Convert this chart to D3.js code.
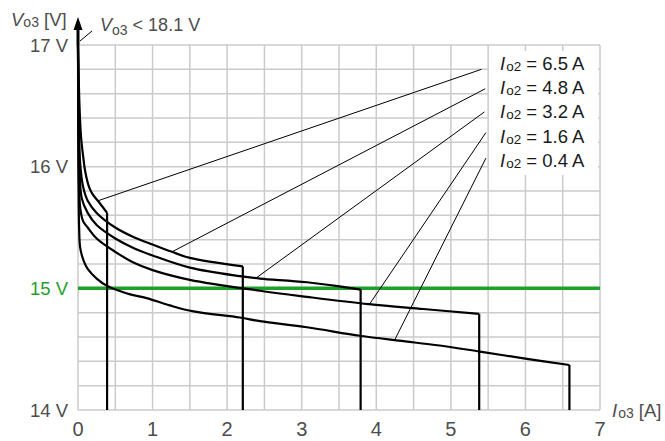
<!DOCTYPE html>
<html>
<head>
<meta charset="utf-8">
<script src="https://cdn.jsdelivr.net/npm/d3@7"></script>
<style>
  body { margin: 0; background: #fff; }
  svg { display: block; font-family: "Liberation Sans", Arial, sans-serif; }
</style>
</head>
<body>
<svg id="chart" width="665" height="441"></svg>
<script>
// axis ticks
const xTicks = [0, 1, 2, 3, 4, 5, 6, 7];
const yTicks = [14, 15, 16, 17];
const xGrid = d3.range(0, 7.01, 0.5);
const yGrid = d3.range(14, 17.01, 0.2);

// output curves Vo3 vs Io3, one per Io2 setting, [I, V]
const curveIo2_04 = [[0,17],[0.003,16.4],[0.008,15.8],[0.015,15.5],[0.03,15.33],[0.08,15.22],[0.13,15.16],[0.25,15.08],[0.39,15.02],[0.55,14.98],[0.7,14.95],[0.92,14.92],[1.23,14.86],[1.55,14.81],[2.17,14.76],[2.44,14.73],[3.07,14.68],[3.78,14.61],[4.3,14.57],[4.85,14.53],[5.39,14.48],[6.02,14.42],[6.59,14.37]];
const curveIo2_16 = [[0,17],[0.005,16.4],[0.012,15.9],[0.03,15.66],[0.07,15.55],[0.13,15.5],[0.25,15.41],[0.5,15.3],[0.75,15.21],[1.0,15.15],[1.5,15.07],[2.44,14.98],[3.07,14.93],[3.9,14.87],[4.63,14.83],[5.38,14.79]];
const curveIo2_32 = [[0,17],[0.008,16.4],[0.02,16.0],[0.05,15.74],[0.13,15.62],[0.25,15.52],[0.5,15.41],[0.75,15.33],[1.0,15.27],[1.5,15.17],[2.17,15.1],[2.44,15.08],[3.07,15.05],[3.79,14.99]];
const curveIo2_48 = [[0,17],[0.01,16.4],[0.03,16.02],[0.07,15.83],[0.13,15.72],[0.25,15.62],[0.5,15.5],[0.75,15.42],[1.0,15.36],[1.26,15.3],[1.5,15.25],[2.21,15.18]];
const curveIo2_65 = [[0,17],[0.02,16.5],[0.04,16.25],[0.07,16.08],[0.1,15.95],[0.15,15.83],[0.2,15.77],[0.28,15.71],[0.39,15.62]];
const curves = [curveIo2_04, curveIo2_16, curveIo2_32, curveIo2_48, curveIo2_65];

// legend labels (top to bottom) and the point each leader line touches
const legendValues = ["6.5", "4.8", "3.2", "1.6", "0.4"];
const leaderStart = [[5.41,16.80],[5.46,16.64],[5.45,16.45],[5.47,16.28],[5.47,16.07]];
const leaderEnd = [[0.27,15.72],[1.26,15.3],[2.4,15.09],[3.91,14.87],[4.25,14.58]];

const limitV = 15;

const svg = d3.select("#chart");
const x = d3.scaleLinear().domain([0, 7]).range([78, 600]);
const y = d3.scaleLinear().domain([14, 17]).range([410, 45]);

// grid
svg.append("g").selectAll("line").data(xGrid).join("line")
  .attr("x1", d => x(d)).attr("x2", d => x(d))
  .attr("y1", y(14)).attr("y2", y(17))
  .attr("stroke", "#cbcbcb").attr("stroke-width", 1.5);
svg.append("g").selectAll("line").data(yGrid).join("line")
  .attr("x1", x(0)).attr("x2", x(7))
  .attr("y1", d => y(d)).attr("y2", d => y(d))
  .attr("stroke", "#cbcbcb").attr("stroke-width", 1.5);

// 15 V line
svg.append("line")
  .attr("x1", x(0)).attr("x2", x(7))
  .attr("y1", y(limitV)).attr("y2", y(limitV))
  .attr("stroke", "#1ea12b").attr("stroke-width", 3.5);

// curves
const line = d3.line().x(d => x(d[0])).y(d => y(d[1])).curve(d3.curveCatmullRom.alpha(0.5));
const g = svg.append("g").attr("fill", "none").attr("stroke", "#000").attr("stroke-width", 2.2);
curves.forEach(c => {
  g.append("path").attr("d", line(c));
  const last = c[c.length - 1];
  g.append("line")
    .attr("x1", x(last[0])).attr("x2", x(last[0]))
    .attr("y1", y(last[1])).attr("y2", y(14));
});

// axis arrow
svg.append("line").attr("x1", x(0)).attr("x2", x(0)).attr("y1", y(17)).attr("y2", 26)
  .attr("stroke", "#000").attr("stroke-width", 3);
svg.append("path")
  .attr("d", `M${x(0)},17 L${x(0) - 4.5},30 L${x(0) + 4.5},30 Z`)
  .attr("fill", "#000");

// legend box and leader lines
svg.append("rect").attr("x", 489).attr("y", 51).attr("width", 109).attr("height", 124).attr("fill", "#fff");
svg.append("g").selectAll("line").data(leaderStart).join("line")
  .attr("x1", d => x(d[0])).attr("y1", d => y(d[1]))
  .attr("x2", (d, i) => x(leaderEnd[i][0])).attr("y2", (d, i) => y(leaderEnd[i][1]))
  .attr("stroke", "#000").attr("stroke-width", 1);

const legend = svg.append("g").attr("font-size", 18.5).attr("fill", "#1a1a1a");
legendValues.forEach((v, i) => {
  const t = legend.append("text").attr("x", 500).attr("y", 70 + i * 24.2);
  t.append("tspan").attr("font-style", "italic").text("I");
  t.append("tspan").attr("font-size", 13.5).attr("dx", 1).attr("dy", 1).text("o2");
  t.append("tspan").attr("dy", -1).text(" = " + v + " A");
});

// tick labels
svg.append("g").selectAll("text").data(yTicks).join("text")
  .attr("x", 68).attr("y", d => y(d) + 6.5)
  .attr("text-anchor", "end").attr("font-size", 18.5)
  .attr("fill", d => d === limitV ? "#1ea12b" : "#4d4d4d")
  .text(d => d + " V");
svg.append("g").selectAll("text").data(xTicks).join("text")
  .attr("x", d => x(d)).attr("y", 436)
  .attr("text-anchor", "middle").attr("font-size", 20).attr("fill", "#4d4d4d")
  .text(d => d);

// axis titles
const yTitle = svg.append("text").attr("x", 11).attr("y", 26).attr("font-size", 18.5).attr("fill", "#4d4d4d");
yTitle.append("tspan").attr("font-style", "italic").text("V");
yTitle.append("tspan").attr("font-size", 14).attr("dy", 1).text("o3");
yTitle.append("tspan").attr("dy", -1).text(" [V]");

const xTitle = svg.append("text").attr("x", 612).attr("y", 417).attr("font-size", 18.5).attr("fill", "#4d4d4d");
xTitle.append("tspan").attr("font-style", "italic").text("I");
xTitle.append("tspan").attr("font-size", 14).attr("dx", 1).attr("dy", 1).text("o3");
xTitle.append("tspan").attr("dy", -1).text(" [A]");

// no-load note
svg.append("line").attr("x1", x(0) + 2).attr("y1", 41).attr("x2", 92).attr("y2", 31)
  .attr("stroke", "#000").attr("stroke-width", 1);
const note = svg.append("text").attr("x", 100).attr("y", 31).attr("font-size", 18).attr("fill", "#4d4d4d");
note.append("tspan").attr("font-style", "italic").text("V");
note.append("tspan").attr("font-size", 14).attr("dy", 4).text("o3");
note.append("tspan").attr("dy", -4).text(" < 18.1 V");
</script>
</body>
</html>
